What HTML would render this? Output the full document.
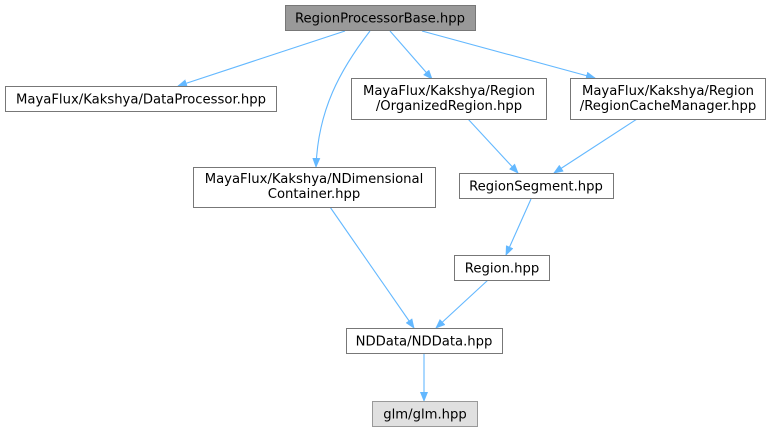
<!DOCTYPE html>
<html><head><meta charset="utf-8"><style>
html,body{margin:0;padding:0;background:#fff;width:770px;height:432px;overflow:hidden}
svg text{font-family:"DejaVu Sans","Liberation Sans",sans-serif;font-size:13.2px;fill:#000;text-anchor:middle}
</style></head><body>
<svg width="770" height="432" viewBox="0 0 770 432" xmlns="http://www.w3.org/2000/svg">
<defs><marker id="a" markerWidth="10" markerHeight="8" refX="9" refY="4" orient="auto" markerUnits="userSpaceOnUse"><path d="M0,0 L10,4 L0,8 z" fill="#63b8ff"/></marker></defs>
<g fill="none" stroke="#63b8ff" stroke-width="1.1" marker-end="url(#a)">
<path d="M345,31 L178,86"/>
<path d="M370,31 C340,70 318,110 316,167"/>
<path d="M390,31 L432,79"/>
<path d="M422,31 L595,78"/>
<path d="M468,119 L518,173"/>
<path d="M637,119 L554,173"/>
<path d="M531,199 L506,255"/>
<path d="M330,207 L414,328"/>
<path d="M488,280 L436,328"/>
<path d="M424,353 L424,401"/>
</g>
<g stroke="#777" stroke-width="1">
<rect x="285.5" y="5.5" width="190" height="25" fill="#999"/>
<rect x="5.5" y="86.5" width="271" height="25" fill="#fff"/>
<rect x="351.5" y="78.5" width="195" height="41" fill="#fff"/>
<rect x="570.5" y="78.5" width="195" height="41" fill="#fff"/>
<rect x="193.5" y="167.5" width="242" height="40" fill="#fff"/>
<rect x="459.5" y="173.5" width="154" height="25" fill="#fff"/>
<rect x="454.5" y="255.5" width="95" height="25" fill="#fff"/>
<rect x="346.5" y="328.5" width="156" height="25" fill="#fff"/>
<rect x="372.5" y="401.5" width="105" height="25" fill="#e0e0e0" stroke="#999"/>
</g>
<text x="380" y="22.5">RegionProcessorBase.hpp</text>
<text x="141" y="103.5">MayaFlux/Kakshya/DataProcessor.hpp</text>
<text x="449" y="95">MayaFlux/Kakshya/Region</text>
<text x="449" y="110">/OrganizedRegion.hpp</text>
<text x="668" y="95">MayaFlux/Kakshya/Region</text>
<text x="668" y="110">/RegionCacheManager.hpp</text>
<text x="314" y="183">MayaFlux/Kakshya/NDimensional</text>
<text x="314" y="198">Container.hpp</text>
<text x="536" y="190.5">RegionSegment.hpp</text>
<text x="502" y="272.5">Region.hpp</text>
<text x="424" y="345.5">NDData/NDData.hpp</text>
<text x="425" y="418.5">glm/glm.hpp</text>
</svg>
</body></html>
